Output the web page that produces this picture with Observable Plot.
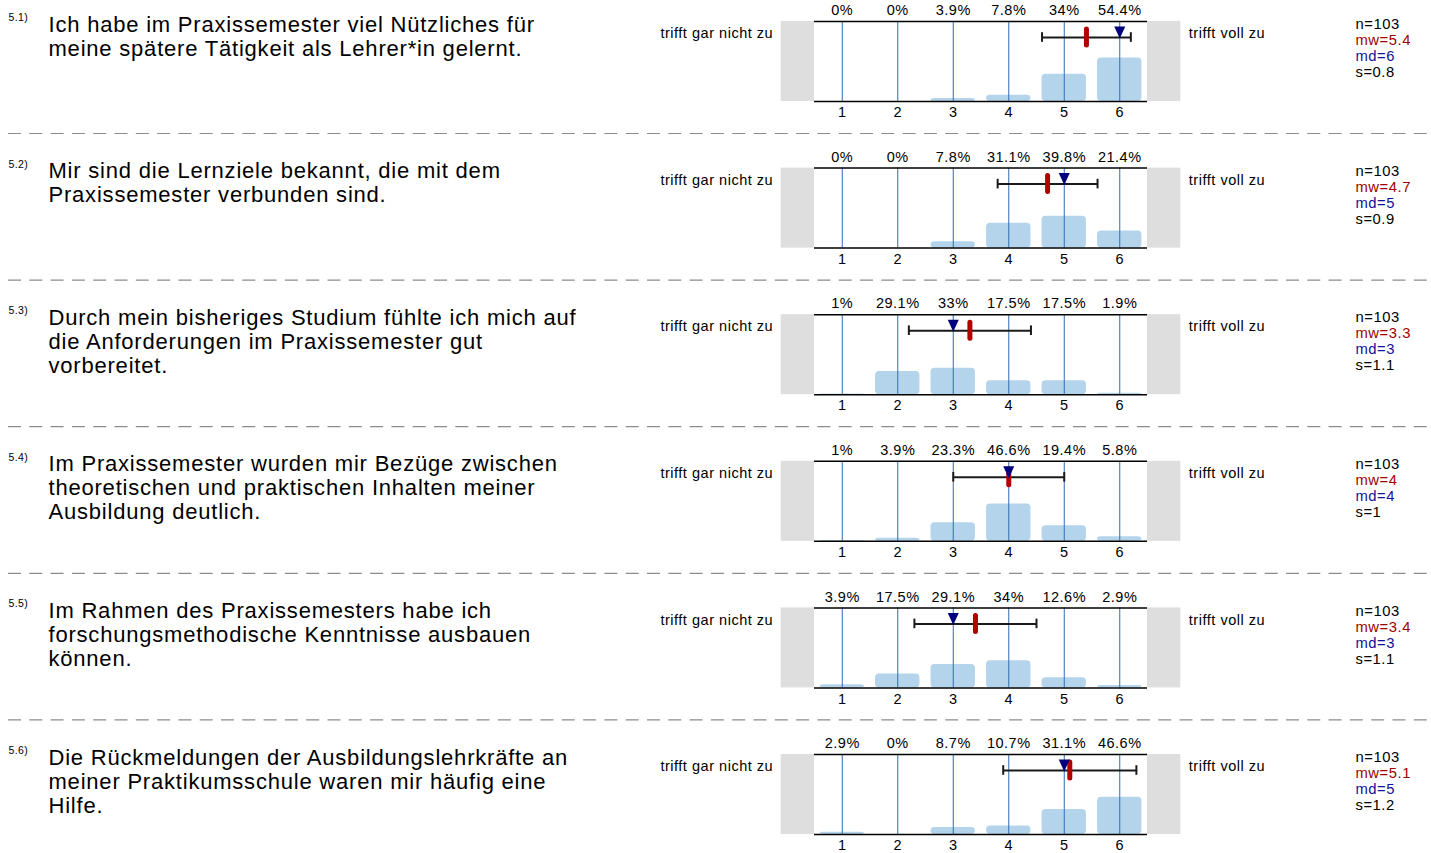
<!DOCTYPE html>
<html>
<head>
<meta charset="utf-8">
<script src="https://cdn.jsdelivr.net/npm/d3@7"></script>
<script src="https://cdn.jsdelivr.net/npm/@observablehq/plot@0.6"></script>
<style>
  html, body { margin: 0; padding: 0; background: #fff; }
  #chart svg { display: block; }
  #chart text { letter-spacing: 0.036em; }
</style>
</head>
<body>
<div id="chart"></div>
<script>
// ---- data ----
const items = ["5.1)", "5.2)", "5.3)", "5.4)", "5.5)", "5.6)"];
const questions = [
  "Ich habe im Praxissemester viel Nützliches für\nmeine spätere Tätigkeit als Lehrer*in gelernt.",
  "Mir sind die Lernziele bekannt, die mit dem\nPraxissemester verbunden sind.",
  "Durch mein bisheriges Studium fühlte ich mich auf\ndie Anforderungen im Praxissemester gut\nvorbereitet.",
  "Im Praxissemester wurden mir Bezüge zwischen\ntheoretischen und praktischen Inhalten meiner\nAusbildung deutlich.",
  "Im Rahmen des Praxissemesters habe ich\nforschungsmethodische Kenntnisse ausbauen\nkönnen.",
  "Die Rückmeldungen der Ausbildungslehrkräfte an\nmeiner Praktikumsschule waren mir häufig eine\nHilfe."
];
const categories = [1, 2, 3, 4, 5, 6];
const percents = [
  [0, 0, 3.9, 7.8, 34, 54.4],
  [0, 0, 7.8, 31.1, 39.8, 21.4],
  [1, 29.1, 33, 17.5, 17.5, 1.9],
  [1, 3.9, 23.3, 46.6, 19.4, 5.8],
  [3.9, 17.5, 29.1, 34, 12.6, 2.9],
  [2.9, 0, 8.7, 10.7, 31.1, 46.6]
];
const nValues = [103, 103, 103, 103, 103, 103];
const means = [5.4, 4.7, 3.3, 4, 3.4, 5.1];
const medians = [6, 5, 3, 4, 3, 5];
const sds = [0.8, 0.9, 1.1, 1, 1.1, 1.2];
const leftLabel = "trifft gar nicht zu";
const rightLabel = "trifft voll zu";

// ---- tables ----
const rows = items.map((id, i) => ({
  id, question: questions[i], n: nValues[i], mean: means[i], median: medians[i], sd: sds[i]
}));
const bars = items.flatMap((id, i) => categories.map((c, j) => ({ id, cat: c, pct: percents[i][j] })));

// ---- layout ----
const W = 1431, H = 853;
const grayW = 0.6;          // width of side boxes in scale units
const errY = 80, capH = 6;  // error bar lane (in y-units)
const font = "Arial, 'Liberation Sans', Helvetica, sans-serif";
const small = 14.5;

const downTriangle = {
  draw(context, size) {
    const r = Math.sqrt(size / Math.PI);
    context.moveTo(-r * 0.92, -r);
    context.lineTo(r * 0.92, -r);
    context.lineTo(0, r);
    context.closePath();
  }
};

const chart = Plot.plot({
  width: W,
  height: H,
  marginLeft: 0,
  marginRight: 0,
  marginTop: 21,
  marginBottom: 19,
  style: { fontFamily: font, background: "#fff", color: "#000" },
  x: { domain: [0.5, 6.5], range: [814, 1147], axis: null },
  y: { domain: [0, 100], axis: null },
  fy: { domain: items, axis: null, paddingInner: 0.4543, paddingOuter: 0, round: false },
  marks: [
    // side boxes
    Plot.rect(rows, { fy: "id", x1: () => 0.5 - grayW, x2: () => 0.5, y1: () => 0, y2: () => 100, fill: "#dedede" }),
    Plot.rect(rows, { fy: "id", x1: () => 6.5, x2: () => 6.5 + grayW, y1: () => 0, y2: () => 100, fill: "#dedede" }),
    // bars
    Plot.rect(bars, { fy: "id", x1: d => d.cat - 0.4, x2: d => d.cat + 0.4, y1: () => 0, y2: "pct", fill: "#b4d4ec", rx: 4 }),
    // grid lines
    Plot.ruleX(categories, { x: d => d, y1: 0, y2: 100, stroke: "#2f6eb6", strokeWidth: 1 }),
    // frame top/bottom lines
    Plot.ruleY([0, 100], { x1: 0.5, x2: 6.5, stroke: "#000", strokeWidth: 1.5 }),
    // tick labels
    Plot.text(categories, { x: d => d, text: d => String(d), frameAnchor: "bottom", dy: 11, lineAnchor: "middle", fontSize: small }),
    // percent labels
    Plot.text(bars, { fy: "id", x: "cat", text: d => d.pct + "%", frameAnchor: "top", dy: -11, lineAnchor: "middle", fontSize: small }),
    // error bars
    Plot.link(rows, { fy: "id", x1: d => d.mean - d.sd, x2: d => d.mean + d.sd, y1: () => errY, y2: () => errY, stroke: "#1a1a1a", strokeWidth: 2 }),
    Plot.ruleX(rows, { fy: "id", x: d => d.mean - d.sd, y1: () => errY - capH, y2: () => errY + capH, stroke: "#1a1a1a", strokeWidth: 2 }),
    Plot.ruleX(rows, { fy: "id", x: d => d.mean + d.sd, y1: () => errY - capH, y2: () => errY + capH, stroke: "#1a1a1a", strokeWidth: 2 }),
    // mean marker
    Plot.ruleX(rows, { fy: "id", x: "mean", y1: () => 70, y2: () => 90, stroke: "#b00000", strokeWidth: 5, strokeLinecap: "round" }),
    // median marker
    Plot.dot(rows, { fy: "id", x: "median", y: () => 86.25, symbol: downTriangle, r: 6, fill: "#00007f", stroke: "none" }),
    // item numbers
    Plot.text(rows, { fy: "id", text: "id", frameAnchor: "top-left", dx: 8, dy: -8, lineAnchor: "top", textAnchor: "start", fontSize: 10.5 }),
    // questions
    Plot.text(rows, { fy: "id", text: "question", frameAnchor: "top-left", dx: 48, dy: -7, lineAnchor: "top", textAnchor: "start", fontSize: 22, lineHeight: 24 / 22 }),
    // scale end labels
    Plot.text(rows, { fy: "id", x: () => 0.5 - grayW, text: () => leftLabel, frameAnchor: "top", dx: -8, dy: 12, textAnchor: "end", lineAnchor: "middle", fontSize: small }),
    Plot.text(rows, { fy: "id", x: () => 6.5 + grayW, text: () => rightLabel, frameAnchor: "top", dx: 8, dy: 12, textAnchor: "start", lineAnchor: "middle", fontSize: small }),
    // stats
    Plot.text(rows, { fy: "id", text: d => "n=" + d.n, frameAnchor: "top-left", dx: 1355, dy: 3, textAnchor: "start", lineAnchor: "middle", fontSize: 14.8, fill: "#000" }),
    Plot.text(rows, { fy: "id", text: d => "mw=" + d.mean, frameAnchor: "top-left", dx: 1355, dy: 19, textAnchor: "start", lineAnchor: "middle", fontSize: 14.8, fill: "#a00000" }),
    Plot.text(rows, { fy: "id", text: d => "md=" + d.median, frameAnchor: "top-left", dx: 1355, dy: 35, textAnchor: "start", lineAnchor: "middle", fontSize: 14.8, fill: "#10109c" }),
    Plot.text(rows, { fy: "id", text: d => "s=" + d.sd, frameAnchor: "top-left", dx: 1355, dy: 51, textAnchor: "start", lineAnchor: "middle", fontSize: 14.8, fill: "#000" }),
    // separators
    Plot.ruleY(rows.slice(0, rows.length - 1), { fy: "id", y: () => -40, dx: 8, stroke: "#8c8c8c", strokeWidth: 1.2, strokeDasharray: "13,8.3" })
  ]
});
document.getElementById("chart").appendChild(chart);
</script>
</body>
</html>
